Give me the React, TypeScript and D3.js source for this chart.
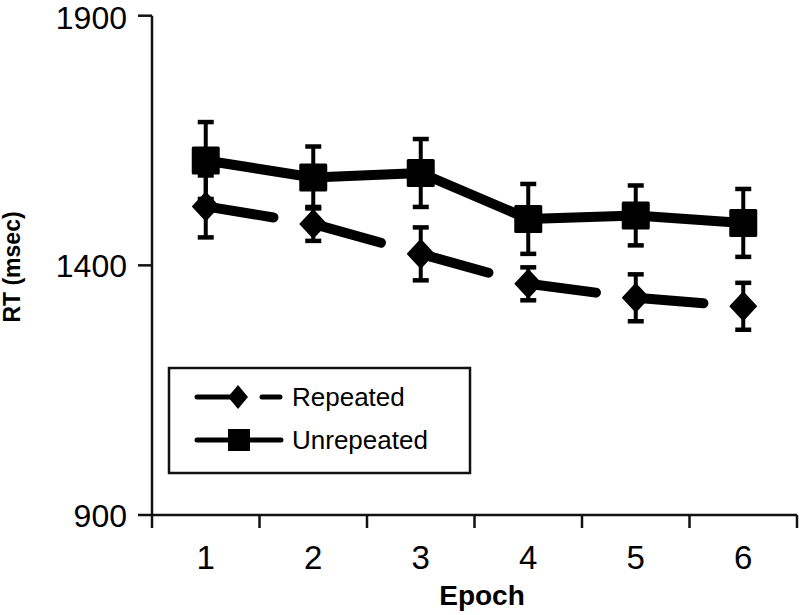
import React, { useEffect, useRef } from 'react';
import * as d3 from 'd3';

const epochs = ['1', '2', '3', '4', '5', '6'];
const repeated = [1518, 1483, 1423, 1363, 1335, 1318];
const repeatedErr = [62, 34, 53, 33, 47, 47];
const unrepeated = [1610, 1576, 1585, 1493, 1500, 1485];
const unrepeatedErr = [77, 62, 68, 70, 60, 68];
const yTicks = [900, 1400, 1900];

const App = () => {
  const svgRef = useRef<SVGSVGElement>(null);

  useEffect(() => {
    const svg = d3.select(svgRef.current);
    svg.selectAll('*').remove();
    const font = '"Liberation Sans", Arial, sans-serif';

    const x = d3.scaleBand().domain(epochs).range([152, 797]);
    const y = d3.scaleLinear().domain([900, 1900]).range([515, 15.7]);
    const cx = (i: number) => (x(epochs[i]) as number) + x.bandwidth() / 2;

    // y axis
    svg.append('line')
      .attr('x1', 152).attr('x2', 152)
      .attr('y1', y(1900)).attr('y2', 528)
      .attr('stroke', '#111').attr('stroke-width', 2.5);
    yTicks.forEach(t => {
      svg.append('line')
        .attr('x1', 138).attr('x2', 152)
        .attr('y1', y(t)).attr('y2', y(t))
        .attr('stroke', '#111').attr('stroke-width', 2.5);
      // keep the top label inside the picture
      const ty = Math.max(y(t) + 11.5, 29);
      svg.append('text')
        .attr('x', 127).attr('y', ty)
        .attr('text-anchor', 'end')
        .style('font-family', font)
        .style('font-size', '32px')
        .text(t);
    });

    // x axis
    svg.append('line')
      .attr('x1', 152).attr('x2', 797)
      .attr('y1', 515).attr('y2', 515)
      .attr('stroke', '#111').attr('stroke-width', 2.5);
    epochs.forEach((e, i) => {
      const bx = x(e) as number;
      svg.append('line')
        .attr('x1', bx + x.bandwidth()).attr('x2', bx + x.bandwidth())
        .attr('y1', 515).attr('y2', 528)
        .attr('stroke', '#111').attr('stroke-width', 2.5);
      svg.append('text')
        .attr('x', cx(i)).attr('y', 569)
        .attr('text-anchor', 'middle')
        .style('font-family', font)
        .style('font-size', '33px')
        .text(e);
    });

    // axis titles
    svg.append('text')
      .attr('x', 482).attr('y', 605)
      .attr('text-anchor', 'middle')
      .style('font-family', font)
      .style('font-weight', 'bold')
      .style('font-size', '28px')
      .text('Epoch');
    svg.append('text')
      .attr('transform', 'translate(20,267) rotate(-90)')
      .attr('text-anchor', 'middle')
      .style('font-family', font)
      .style('font-weight', 'bold')
      .style('font-size', '23px')
      .text('RT (msec)');

    const g = svg.append('g');

    // error bars
    const errBars = (vals: number[], errs: number[]) => {
      vals.forEach((v, i) => {
        const px = cx(i);
        g.append('line')
          .attr('x1', px).attr('x2', px)
          .attr('y1', y(v + errs[i])).attr('y2', y(v - errs[i]))
          .attr('stroke', '#000').attr('stroke-width', 4);
        [v + errs[i], v - errs[i]].forEach(b => {
          g.append('line')
            .attr('x1', px - 8).attr('x2', px + 8)
            .attr('y1', y(b)).attr('y2', y(b))
            .attr('stroke', '#000').attr('stroke-width', 4.5);
        });
      });
    };
    errBars(unrepeated, unrepeatedErr);
    errBars(repeated, repeatedErr);

    // unrepeated line
    const line = d3.line<number>().x((d, i) => cx(i)).y(d => y(d));
    g.append('path')
      .attr('d', line(unrepeated))
      .attr('fill', 'none')
      .attr('stroke', '#000')
      .attr('stroke-width', 10)
      .attr('stroke-linejoin', 'round');

    // repeated line: one long dash from each point
    for (let i = 0; i < repeated.length - 1; i++) {
      const x1 = cx(i), y1 = y(repeated[i]);
      const x2 = cx(i + 1), y2 = y(repeated[i + 1]);
      const len = Math.hypot(x2 - x1, y2 - y1);
      g.append('line')
        .attr('x1', x1).attr('y1', y1).attr('x2', x2).attr('y2', y2)
        .attr('stroke', '#000')
        .attr('stroke-width', 10)
        .attr('stroke-linecap', 'round')
        .attr('stroke-dasharray', `${len * 0.63} ${len}`);
    }

    // markers
    unrepeated.forEach((v, i) => {
      g.append('rect')
        .attr('x', cx(i) - 14).attr('y', y(v) - 14)
        .attr('width', 28).attr('height', 28)
        .attr('rx', 1.5)
        .attr('fill', '#000');
    });
    repeated.forEach((v, i) => {
      const px = cx(i), py = y(v);
      g.append('path')
        .attr('d', `M${px},${py - 14}L${px + 13},${py}L${px},${py + 14}L${px - 13},${py}Z`)
        .attr('fill', '#000')
        .attr('stroke', '#000')
        .attr('stroke-width', 1.5)
        .attr('stroke-linejoin', 'round');
    });

    // legend
    const lg = svg.append('g');
    lg.append('rect')
      .attr('x', 169).attr('y', 368)
      .attr('width', 301).attr('height', 105)
      .attr('fill', '#fff')
      .attr('stroke', '#111')
      .attr('stroke-width', 2.5);
    lg.append('line')
      .attr('x1', 197).attr('x2', 280)
      .attr('y1', 397).attr('y2', 397)
      .attr('stroke', '#000').attr('stroke-width', 5)
      .attr('stroke-linecap', 'round')
      .attr('stroke-dasharray', '43 22 25');
    lg.append('path')
      .attr('d', 'M238,385L248,397L238,409L228,397Z')
      .attr('fill', '#000');
    lg.append('line')
      .attr('x1', 197).attr('x2', 281)
      .attr('y1', 440).attr('y2', 440)
      .attr('stroke', '#000').attr('stroke-width', 5)
      .attr('stroke-linecap', 'round');
    lg.append('rect')
      .attr('x', 228).attr('y', 429)
      .attr('width', 22).attr('height', 22)
      .attr('fill', '#000');
    [['Repeated', 397], ['Unrepeated', 440]].forEach(([label, ly]) => {
      lg.append('text')
        .attr('x', 292).attr('y', ly as number)
        .attr('dy', '0.36em')
        .style('font-family', font)
        .style('font-size', '26px')
        .text(label as string);
    });
  }, []);

  return (
    <svg
      ref={svgRef}
      width={800}
      height={615}
      style={{ position: 'absolute', left: 0, top: 0, backgroundColor: 'white' }}
    ></svg>
  );
};

export default App;
